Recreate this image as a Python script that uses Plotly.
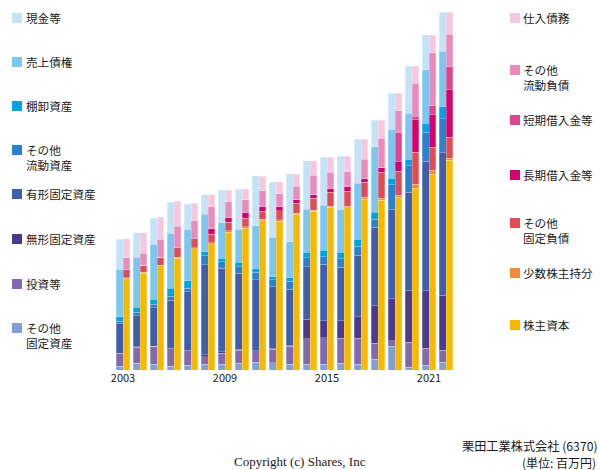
import numpy as np
import plotly.graph_objects as go

years = list(range(2003, 2023))

# Assets (bottom -> top) (relative units)
a_other_fixed = [4, 6.7, 6, 4, 5, 5.7, 5.7, 6.7, 7.7, 7.3, 6, 6, 6, 6.7, 6, 10.7, 23.7, 3, 5, 7.7]
a_investments = [12.3, 16.3, 18, 16.3, 13.3, 7.7, 11.3, 13.3, 10.7, 13.3, 17.7, 25.3, 26.3, 25.3, 26, 16, 5.6, 25, 17, 12]
a_intangible = [0.7, 0.3, 0, 1.7, 1.7, 1.7, 1.3, 1, 1, 1.3, 1, 19.3, 17, 17.3, 21.3, 37.6, 42, 51.3, 57.3, 55]
a_tangible = [29.3, 31, 38.3, 48, 58.3, 90, 83.7, 76, 70.7, 61.3, 56, 52.7, 56.3, 53.4, 61.4, 78.7, 89, 98.4, 129.4, 142.6]
a_other_current = [2.7, 3.3, 3.7, 4, 3.7, 9, 6.3, 6.3, 7.7, 7.3, 8, 9, 7.7, 8.6, 9, 8, 25, 26.6, 29, 34]
a_inventory = [4.3, 5, 5, 7.7, 7.3, 4.3, 3.7, 4.7, 3.7, 3, 3.7, 5.7, 6.7, 6.7, 7.3, 7, 6.7, 6.7, 9.3, 12]
a_receivables = [47.7, 50.3, 55, 55, 51.3, 37.3, 35.3, 33, 42.7, 39.3, 35.7, 42.7, 45, 43, 56, 65.3, 49, 45.7, 53.3, 55.4]
a_cash = [30, 24.3, 26, 31.3, 25, 19.7, 32.3, 40, 50, 55, 68, 48.7, 48, 53, 43.7, 26.7, 36, 47, 35, 39.3]

# Liabilities & equity (bottom -> top)
l_equity = [92, 97, 104.3, 112, 121.3, 126.3, 138, 141.7, 149.3, 148.7, 155.7, 158.7, 162.7, 162.3, 170.7, 170, 172.7, 182, 196, 210]
l_minority = [0.5, 1, 0.7, 0.8, 1, 1, 1.3, 1.7, 1.3, 1.7, 1.3, 1.3, 1.3, 1.7, 2, 2, 2, 4, 4, 2]
l_other_fixed = [8, 7, 8, 9.3, 9, 8.7, 8.7, 8.4, 8.3, 8.7, 9.7, 12, 14, 15, 15.3, 26, 24.3, 32, 22.7, 20.7]
l_long_term = [0, 0, 0, 0, 0, 6, 5, 5.3, 4.3, 4.7, 4, 3.7, 3.7, 4.3, 4, 4.7, 10, 32.3, 32.6, 47.6]
l_short_term = [0, 0, 0, 0, 0, 0, 0, 0, 0, 0, 0, 0, 0, 0, 0, 0, 28.7, 3.4, 9, 23]
l_other_current = [11.7, 12, 18, 21.7, 18, 21.3, 15.3, 13.3, 16, 12.6, 13.3, 19.3, 16.3, 15, 19, 29.3, 21.6, 33.3, 53, 32.7]
l_payables = [19.3, 20.3, 21.7, 25, 17.4, 12, 11.4, 10.7, 14.7, 11.7, 12, 14.3, 15, 15.7, 19.7, 18, 17.7, 16.7, 18, 22]

tick_years = [2003, 2009, 2015, 2021]

asset_series = [
    ("その他固定資産", a_other_fixed, "#7f9fd6"),
    ("投資等", a_investments, "#8069b0"),
    ("無形固定資産", a_intangible, "#4b3a8e"),
    ("有形固定資産", a_tangible, "#3f5fac"),
    ("その他流動資産", a_other_current, "#2a82cf"),
    ("棚卸資産", a_inventory, "#00a2e6"),
    ("売上債権", a_receivables, "#7cc6f2"),
    ("現金等", a_cash, "#c5e3f7"),
]
liab_series = [
    ("株主資本", l_equity, "#f6b900"),
    ("少数株主持分", l_minority, "#ef8a3b"),
    ("その他固定負債", l_other_fixed, "#e24b55"),
    ("長期借入金等", l_long_term, "#d8006f"),
    ("短期借入金等", l_short_term, "#e0448c"),
    ("その他流動負債", l_other_current, "#ea8bbb"),
    ("仕入債務", l_payables, "#f6c8df"),
]

yrs = np.array(years, dtype=float)
xa = yrs - 0.2
xl = yrs + 0.2

fig = go.Figure()
for name, vals, col in asset_series:
    fig.add_trace(go.Bar(x=xa, y=vals, width=0.4, marker=dict(color=col, line=dict(width=0.5, color="rgba(255,255,255,0.5)")),
                         name=name, showlegend=False))
for name, vals, col in liab_series:
    fig.add_trace(go.Bar(x=xl, y=vals, width=0.4, marker=dict(color=col, line=dict(width=0.5, color="rgba(255,255,255,0.5)")),
                         name=name, showlegend=False))

# layout geometry (pixels)
W, H = 600, 470
L, R, T, B = 113, 144, 10, 100
PW = W - L - R
PH = H - T - B

def px_x(x):
    return (x - L) / PW

def px_y(y):
    return (H - B - y) / PH

font_jp = "Noto Sans CJK JP"
shapes = []
annotations = []

left_legend = [
    (["現金等"], "#c5e3f7", 18),
    (["売上債権"], "#7cc6f2", 62),
    (["棚卸資産"], "#00a2e6", 106),
    (["その他", "流動資産"], "#2a82cf", 150),
    (["有形固定資産"], "#3f5fac", 194),
    (["無形固定資産"], "#4b3a8e", 239),
    (["投資等"], "#8069b0", 284),
    (["その他", "固定資産"], "#7f9fd6", 328),
]
right_legend = [
    (["仕入債務"], "#f6c8df", 18),
    (["その他", "流動負債"], "#ea8bbb", 70),
    (["短期借入金等"], "#e0448c", 120),
    (["長期借入金等"], "#d8006f", 175),
    (["その他", "固定負債"], "#e24b55", 223),
    (["少数株主持分"], "#ef8a3b", 273),
    (["株主資本"], "#f6b900", 325),
]

def add_legend(items, sq_x, txt_x):
    for lines, col, cy in items:
        shapes.append(dict(type="rect", xref="paper", yref="paper",
                           x0=px_x(sq_x), x1=px_x(sq_x + 10), y0=px_y(cy + 5), y1=px_y(cy - 5),
                           fillcolor=col, line=dict(width=0)))
        for i, line in enumerate(lines):
            annotations.append(dict(text=line, xref="paper", yref="paper", x=px_x(txt_x), y=px_y(cy + 14.5 * i),
                                    xanchor="left", yanchor="middle", showarrow=False, align="left",
                                    font=dict(family=font_jp, size=11.6, color="#1a1a1a")))

add_legend(left_legend, 12, 24)
add_legend(right_legend, 510, 521)

annotations.append(dict(text="栗田工業株式会社 (6370)", xref="paper", yref="paper", x=px_x(600), y=px_y(445.5),
                        xanchor="right", yanchor="middle", showarrow=False,
                        font=dict(family=font_jp, size=12.2, color="#1a1a1a")))
annotations.append(dict(text="(単位: 百万円)", xref="paper", yref="paper", x=px_x(598), y=px_y(462),
                        xanchor="right", yanchor="middle", showarrow=False,
                        font=dict(family=font_jp, size=12, color="#1a1a1a")))
annotations.append(dict(text="Copyright (c) Shares, Inc", xref="paper", yref="paper", x=px_x(300), y=px_y(461),
                        xanchor="center", yanchor="middle", showarrow=False,
                        font=dict(family="Liberation Serif", size=13, color="#1a1a1a")))

fig.update_layout(
    width=W, height=H,
    margin=dict(l=L, r=R, t=T, b=B, pad=0),
    barmode="stack",
    bargap=0,
    paper_bgcolor="white", plot_bgcolor="white",
    shapes=shapes, annotations=annotations,
    showlegend=False,
)
fig.update_xaxes(range=[2003 - 10 / 17, 2003 - 10 / 17 + PW / 17], tickvals=tick_years,
                 ticktext=[str(y) for y in tick_years], showgrid=False, zeroline=False, showline=False,
                 ticks="", tickfont=dict(family=font_jp, size=11, color="#1a1a1a"), fixedrange=True)
fig.update_yaxes(range=[0, PH], visible=False, fixedrange=True)

fig.write_html("out.html", config={"displayModeBar": False, "staticPlot": True},
               post_script="document.body.style.margin='0';document.body.style.overflow='hidden';")
